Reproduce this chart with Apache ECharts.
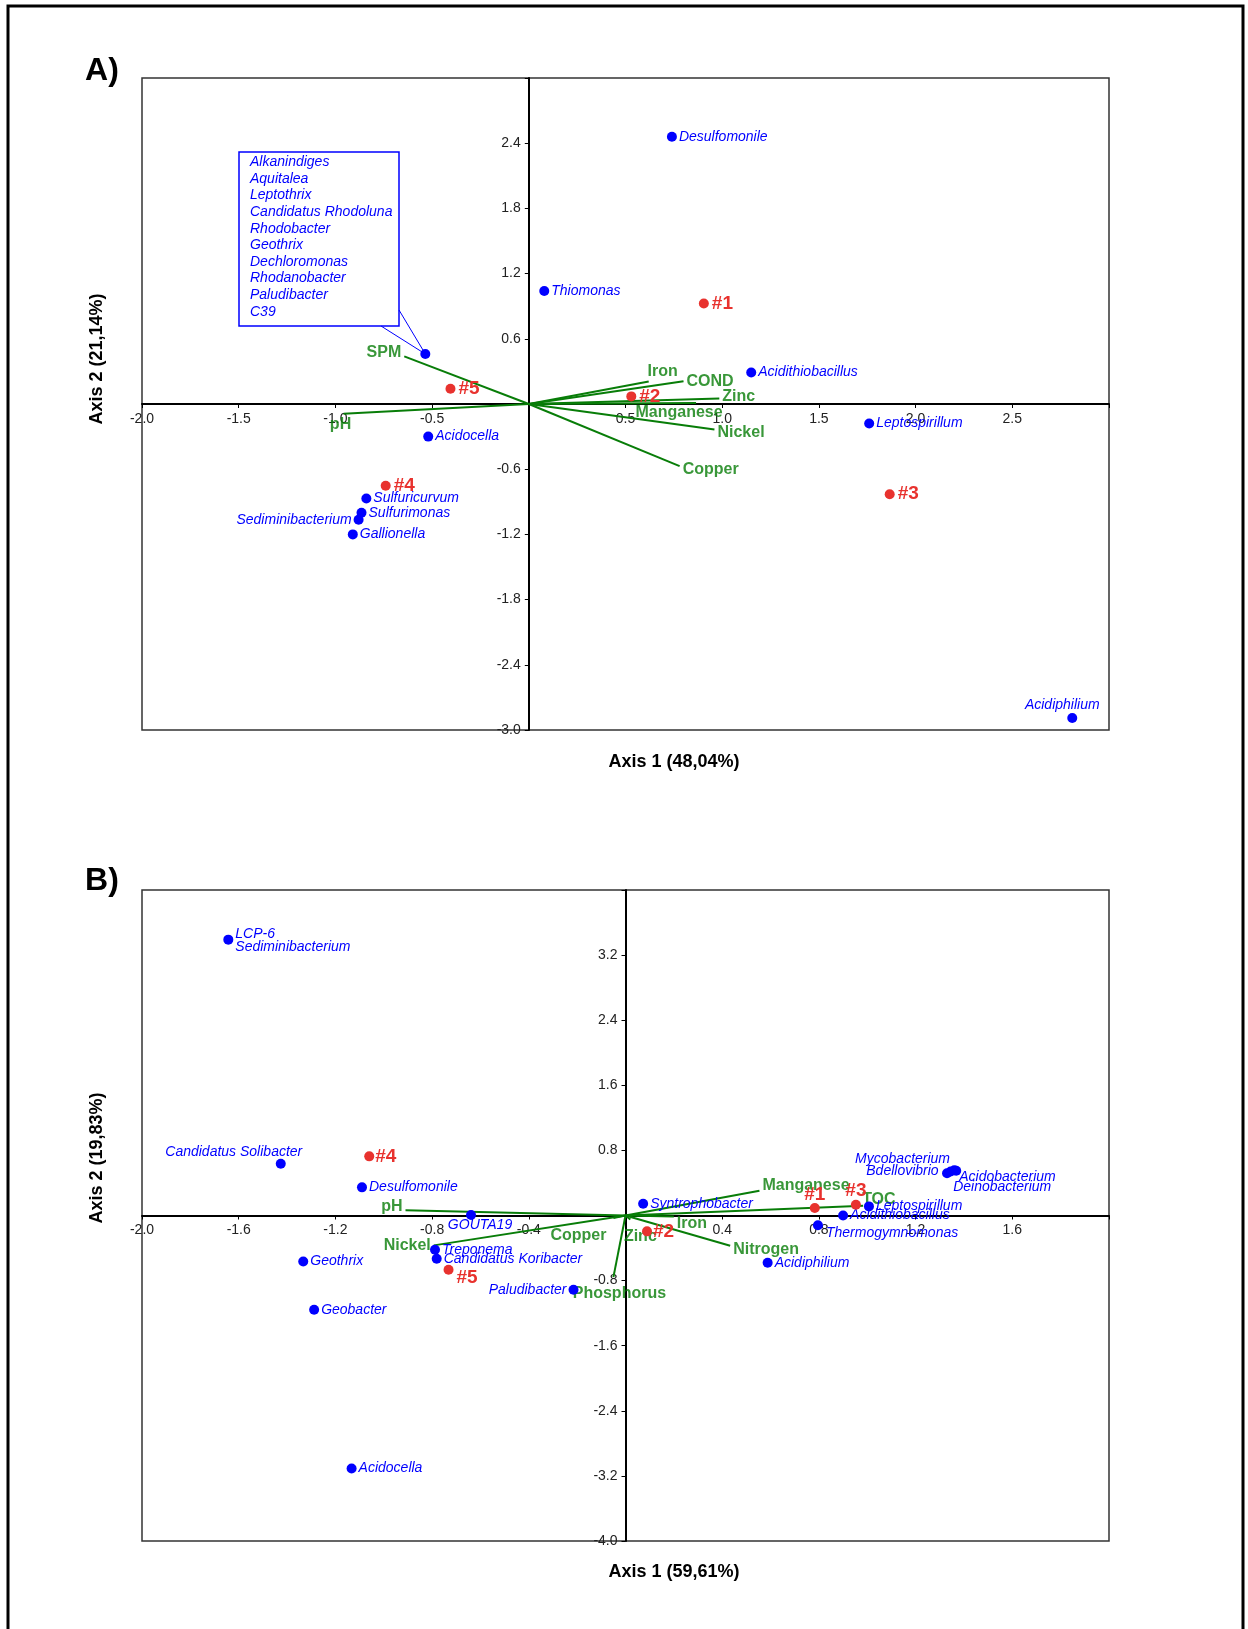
<!DOCTYPE html>
<html>
<head>
<meta charset="utf-8">
<script src="https://cdn.jsdelivr.net/npm/echarts/dist/echarts.min.js"></script>
<style>
  html, body { margin: 0; padding: 0; background: #fff; }
  #chart { width: 1248px; height: 1629px; }
</style>
</head>
<body>
<div id="chart"></div>
<script>
// ---- panel A data ----
const aSpeciesNames = ["Desulfomonile", "Thiomonas", "Acidithiobacillus", "Leptospirillum", "Acidocella",
  "Sulfuricurvum", "Sulfurimonas", "Sediminibacterium", "Gallionella", "Acidiphilium"];
const aSpeciesX = [0.74, 0.08, 1.15, 1.76, -0.52, -0.84, -0.865, -0.88, -0.91, 2.81];
const aSpeciesY = [2.46, 1.04, 0.29, -0.18, -0.30, -0.87, -1.0, -1.065, -1.2, -2.89];

// genera that share one point (shown in the box)
const aClusterNames = ["Alkanindiges", "Aquitalea", "Leptothrix", "Candidatus Rhodoluna", "Rhodobacter",
  "Geothrix", "Dechloromonas", "Rhodanobacter", "Paludibacter", "C39"];
const aClusterX = -0.535;
const aClusterY = 0.46;

const aSiteNames = ["#1", "#2", "#3", "#4", "#5"];
const aSiteX = [0.905, 0.53, 1.866, -0.74, -0.405];
const aSiteY = [0.925, 0.07, -0.83, -0.752, 0.14];

const aVarNames = ["SPM", "pH", "Iron", "COND", "Zinc", "Manganese", "Nickel", "Copper"];
const aVarX = [-0.644, -0.958, 0.62, 0.80, 0.985, 0.865, 0.96, 0.78];
const aVarY = [0.438, -0.09, 0.207, 0.21, 0.05, 0.01, -0.235, -0.572];

// ---- panel B data ----
const bSpeciesNames = ["LCP-6\nSediminibacterium", "Candidatus Solibacter", "Desulfomonile", "GOUTA19",
  "Syntrophobacter", "Treponema", "Candidatus Koribacter", "Geothrix", "Paludibacter", "Geobacter",
  "Acidocella", "Mycobacterium", "Bdellovibrio", "Acidobacterium", "Deinobacterium", "Leptospirillum",
  "Acidithiobacillus", "Thermogymnomonas", "Acidiphilium"];
const bSpeciesX = [-1.643, -1.426, -1.09, -0.639, 0.073, -0.788, -0.781, -1.333, -0.215, -1.288,
  -1.133, 1.33, 1.345, 1.36, 1.368, 1.007, 0.9, 0.796, 0.588];
const bSpeciesY = [3.39, 0.637, 0.346, 0.006, 0.145, -0.42, -0.531, -0.565, -0.913, -1.159,
  -3.11, 0.52, 0.54, 0.555, 0.55, 0.112, 0.0, -0.12, -0.58];

const bSiteNames = ["#1", "#2", "#3", "#4", "#5"];
const bSiteX = [0.783, 0.089, 0.953, -1.06, -0.732];
const bSiteY = [0.092, -0.195, 0.133, 0.727, -0.667];

const bVarNames = ["pH", "Nickel", "Copper", "Zinc", "Iron", "Nitrogen", "Manganese", "TOC", "Phosphorus"];
const bVarX = [-0.91, -0.793, -0.05, 0.02, 0.2, 0.433, 0.554, 0.983, -0.05];
const bVarY = [0.063, -0.367, -0.03, -0.05, -0.011, -0.371, 0.305, 0.12, -0.757];

// ---- label placement (style only) ----
const aLabelPlace = {
  "Sediminibacterium": { pos: "left" },
  "Acidiphilium": { pos: "top", off: [-10, 1] },
  "SPM": { pos: "left", off: [0, -4] },
  "pH": { pos: "bottom", off: [-3, 0] },
  "Iron": { pos: "top", off: [14, 1] },
  "Zinc": { pos: "right", off: [0, -2] },
  "Manganese": { pos: "bottom", off: [-17, -1] },
  "Nickel": { pos: "right", off: [0, 3] },
  "Copper": { pos: "right", off: [0, 3] }
};
const bLabelPlace = {
  "LCP-6\nSediminibacterium": { pos: "right", off: [0, 1] },
  "Candidatus Solibacter": { pos: "top", off: [-47, 2] },
  "GOUTA19": { pos: "bottom", off: [9, -3] },
  "Paludibacter": { pos: "left" },
  "Mycobacterium": { pos: "left", off: [10, -14] },
  "Bdellovibrio": { pos: "left", off: [-5, 0] },
  "Acidobacterium": { pos: "right", off: [-2, 7] },
  "Deinobacterium": { pos: "right", off: [-10, 16] },
  "Thermogymnomonas": { pos: "right", off: [1, 8] },
  "#1": { pos: "top", off: [0, 4] },
  "#3": { pos: "top", off: [0, 4] },
  "#4": { pos: "right", off: [-2, 0] },
  "#2": { pos: "right", off: [-2, 0] },
  "#5": { pos: "right", off: [0, 8] },
  "pH": { pos: "left", off: [0, -4] },
  "Nickel": { pos: "left", off: [0, 0] },
  "Copper": { pos: "left", off: [-4, 18] },
  "Zinc": { pos: "bottom", off: [10, 6] },
  "Iron": { pos: "right", off: [0, 7] },
  "Nitrogen": { pos: "right", off: [0, 4] },
  "Manganese": { pos: "right", off: [0, -5] },
  "TOC": { pos: "right", off: [-4, -6] },
  "Phosphorus": { pos: "bottom", off: [6, 5] }
};

const FONT = "'Liberation Sans', Arial, Helvetica, sans-serif";
const BLUE = "#0000ff";
const RED = "#e8322e";
const GREEN = "#087d08";

const gridA = { left: 142, top: 78, width: 967, height: 652 };
const gridB = { left: 142, top: 890, width: 967, height: 651 };

function pointData(names, xs, ys, place) {
  return names.map((n, i) => {
    const p = place[n] || {};
    return {
      name: n,
      value: [xs[i], ys[i]],
      label: { position: p.pos || "right", offset: p.off || [0, 0] }
    };
  });
}

function vectorData(xs, ys) {
  return xs.map((x, i) => ({ coords: [[0, 0], [x, ys[i]]] }));
}

// axis drawn through the origin: shift it from the grid edge by an offset
function axis(gridIndex, min, max, interval, offset, margin) {
  return {
    type: "value",
    gridIndex: gridIndex,
    min: min,
    max: max,
    interval: interval,
    offset: offset,
    splitLine: { show: false },
    axisLine: { onZero: false, lineStyle: { color: "#000", width: 2 } },
    axisTick: { show: true, length: 4, lineStyle: { color: "#000", width: 1 } },
    axisLabel: {
      color: "#222",
      fontSize: 14,
      fontFamily: FONT,
      margin: margin,
      showMinLabel: true,
      showMaxLabel: true,
      formatter: v => (Math.abs(v) < 1e-9 || v > max - 1e-9) ? "" : v.toFixed(1)
    }
  };
}

function xAxisAt(gi, g, min, max, interval, ymin, ymax) {
  const zeroY = g.top + g.height * ymax / (ymax - ymin);
  return axis(gi, min, max, interval, -(g.top + g.height - zeroY), 8);
}
function yAxisAt(gi, g, min, max, interval, xmin, xmax) {
  const zeroX = g.left + g.width * (-xmin) / (xmax - xmin);
  return axis(gi, min, max, interval, -(zeroX - g.left), 8);
}

function panelSeries(idx, vx, vy, vNames, sNames, sx, sy, siteNames, siteX, siteY, place) {
  const common = { xAxisIndex: idx, yAxisIndex: idx, silent: true, animation: false };
  return [
    Object.assign({
      type: "lines",
      coordinateSystem: "cartesian2d",
      data: vectorData(vx, vy),
      lineStyle: { color: GREEN, width: 2, opacity: 1 },
      z: 2
    }, common),
    Object.assign({
      type: "scatter",
      symbolSize: 0,
      data: pointData(vNames, vx, vy, place),
      label: {
        show: true, formatter: "{b}", color: GREEN, fontSize: 16,
        fontWeight: "bold", fontFamily: FONT, distance: 3
      },
      z: 3
    }, common),
    Object.assign({
      type: "scatter",
      symbolSize: 10,
      itemStyle: { color: BLUE, opacity: 1 },
      data: pointData(sNames, sx, sy, place),
      label: {
        show: true, formatter: "{b}", color: BLUE, fontSize: 14, lineHeight: 13,
        fontStyle: "italic", fontFamily: FONT, distance: 2
      },
      z: 4
    }, common),
    Object.assign({
      type: "scatter",
      symbolSize: 10,
      itemStyle: { color: RED, opacity: 1 },
      data: pointData(siteNames, siteX, siteY, place),
      label: {
        show: true, formatter: "{b}", color: RED, fontSize: 19,
        fontWeight: "bold", fontFamily: FONT, distance: 3
      },
      z: 5
    }, common)
  ];
}

const chart = echarts.init(document.getElementById("chart"), null, { renderer: "canvas" });

chart.setOption({
  backgroundColor: "#fff",
  animation: false,
  grid: [
    Object.assign({ show: true, borderColor: "#333", borderWidth: 1.5 }, gridA),
    Object.assign({ show: true, borderColor: "#333", borderWidth: 1.5 }, gridB)
  ],
  xAxis: [xAxisAt(0, gridA, -2, 3, 0.5, -3, 3), xAxisAt(1, gridB, -2, 2, 0.4, -4, 4)],
  yAxis: [yAxisAt(0, gridA, -3, 3, 0.6, -2, 3), yAxisAt(1, gridB, -4, 4, 0.8, -2, 2)],
  series: [].concat(
    panelSeries(0, aVarX, aVarY, aVarNames,
      aSpeciesNames.concat([""]), aSpeciesX.concat([aClusterX]), aSpeciesY.concat([aClusterY]),
      aSiteNames, aSiteX, aSiteY, aLabelPlace),
    panelSeries(1, bVarX, bVarY, bVarNames,
      bSpeciesNames, bSpeciesX, bSpeciesY,
      bSiteNames, bSiteX, bSiteY, bLabelPlace)
  )
});

// annotations: frame, panel letters, axis titles, cluster box
const dot = chart.convertToPixel({ xAxisIndex: 0, yAxisIndex: 0 }, [aClusterX, aClusterY]);

function txt(x, y, text, font, color, rotation) {
  return {
    type: "text", x: x, y: y, rotation: rotation || 0, silent: true, z: 10,
    style: {
      text: text, font: font, fill: color || "#000",
      align: "center", verticalAlign: "middle",
      textAlign: "center", textVerticalAlign: "middle"
    }
  };
}

const titleFont = "bold 18px " + FONT;
const letterFont = "bold 32px " + FONT;

chart.setOption({
  graphic: [
    {
      type: "rect", silent: true, z: 10,
      shape: { x: 8, y: 6, width: 1235, height: 1700 },
      style: { fill: "none", stroke: "#000", lineWidth: 3 }
    },
    txt(102, 71, "A)", letterFont),
    txt(102, 881, "B)", letterFont),
    txt(674, 762, "Axis 1 (48,04%)", titleFont),
    txt(97, 359, "Axis 2 (21,14%)", titleFont, "#000", Math.PI / 2),
    txt(674, 1572, "Axis 1 (59,61%)", titleFont),
    txt(97, 1158, "Axis 2 (19,83%)", titleFont, "#000", Math.PI / 2),
    {
      type: "rect", silent: true, z: 10,
      shape: { x: 239, y: 152, width: 160, height: 174 },
      style: { fill: "#fff", stroke: BLUE, lineWidth: 1.5 }
    },
    {
      type: "text", silent: true, z: 11, x: 250, y: 154,
      style: {
        text: aClusterNames.join("\n"), font: "italic 14px " + FONT, fill: BLUE,
        lineHeight: 16.6, align: "left", verticalAlign: "top",
        textAlign: "left", textVerticalAlign: "top"
      }
    },
    {
      type: "line", silent: true, z: 10,
      shape: { x1: 399, y1: 310, x2: dot[0], y2: dot[1] },
      style: { stroke: BLUE, lineWidth: 1 }
    },
    {
      type: "line", silent: true, z: 10,
      shape: { x1: 381, y1: 326, x2: dot[0], y2: dot[1] },
      style: { stroke: BLUE, lineWidth: 1 }
    }
  ]
});
</script>
</body>
</html>
